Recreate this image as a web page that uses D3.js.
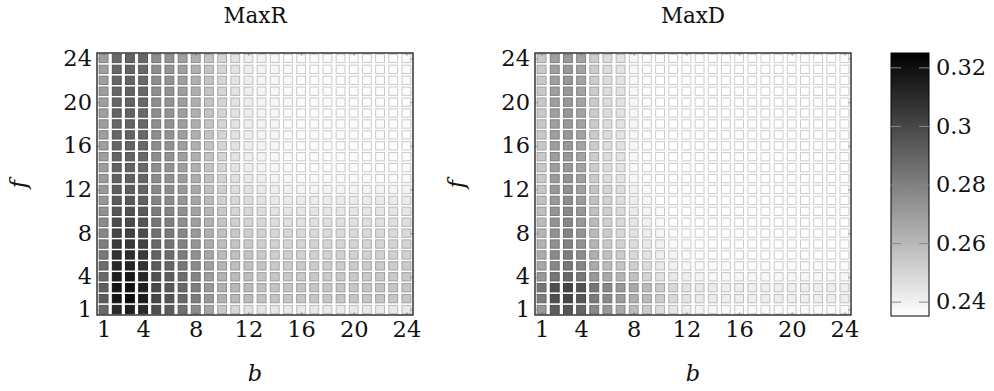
<!DOCTYPE html>
<html>
<head>
<meta charset="utf-8">
<script src="https://cdn.jsdelivr.net/npm/d3@7"></script>
<style>
  body { margin: 0; background: #fff; }
</style>
</head>
<body>
<svg width="994" height="391"></svg>
<script>
// tick values / labels
const bTicks = [1, 4, 8, 12, 16, 20, 24];
const fTicks = [1, 4, 8, 12, 16, 20, 24];
const barTicks = [0.24, 0.26, 0.28, 0.3, 0.32];
const colorDomain = [0.2351, 0.3249];
const titles = ['MaxR', 'MaxD'];

// rows: f = 1..24, each row b = 1..24
const maxR = [
  [0.288,0.310,0.314,0.310,0.297,0.292,0.285,0.276,0.266,0.254,0.249,0.246,0.245,0.244,0.243,0.243,0.243,0.243,0.243,0.243,0.243,0.243,0.243,0.243],
  [0.293,0.318,0.321,0.315,0.300,0.295,0.288,0.281,0.271,0.263,0.260,0.259,0.257,0.256,0.255,0.255,0.255,0.255,0.255,0.255,0.255,0.255,0.255,0.255],
  [0.291,0.317,0.319,0.313,0.299,0.294,0.288,0.280,0.271,0.263,0.260,0.259,0.257,0.256,0.255,0.255,0.255,0.255,0.255,0.255,0.255,0.255,0.255,0.255],
  [0.288,0.314,0.316,0.310,0.296,0.292,0.286,0.278,0.269,0.262,0.259,0.258,0.256,0.255,0.254,0.254,0.254,0.254,0.254,0.254,0.254,0.254,0.254,0.254],
  [0.286,0.311,0.312,0.307,0.293,0.289,0.283,0.276,0.268,0.261,0.258,0.257,0.256,0.254,0.253,0.253,0.253,0.253,0.253,0.253,0.253,0.253,0.253,0.253],
  [0.282,0.307,0.309,0.304,0.290,0.287,0.281,0.274,0.266,0.259,0.257,0.256,0.254,0.252,0.252,0.251,0.251,0.251,0.251,0.251,0.251,0.251,0.251,0.251],
  [0.280,0.305,0.305,0.301,0.288,0.284,0.279,0.272,0.264,0.258,0.256,0.254,0.252,0.251,0.250,0.250,0.250,0.250,0.250,0.250,0.250,0.250,0.250,0.250],
  [0.277,0.301,0.302,0.298,0.285,0.282,0.277,0.271,0.263,0.257,0.254,0.252,0.251,0.249,0.249,0.248,0.248,0.248,0.248,0.248,0.248,0.248,0.248,0.248],
  [0.276,0.298,0.299,0.295,0.283,0.280,0.275,0.269,0.262,0.256,0.252,0.250,0.249,0.247,0.246,0.246,0.246,0.246,0.246,0.246,0.246,0.246,0.246,0.246],
  [0.274,0.295,0.296,0.293,0.281,0.278,0.274,0.267,0.260,0.254,0.250,0.249,0.247,0.245,0.244,0.244,0.244,0.244,0.244,0.244,0.244,0.244,0.244,0.244],
  [0.272,0.293,0.294,0.291,0.278,0.276,0.272,0.266,0.259,0.252,0.249,0.247,0.245,0.243,0.242,0.242,0.242,0.242,0.242,0.242,0.242,0.242,0.242,0.242],
  [0.271,0.292,0.292,0.290,0.277,0.275,0.271,0.265,0.257,0.252,0.247,0.245,0.243,0.241,0.240,0.239,0.239,0.239,0.239,0.239,0.239,0.239,0.239,0.239],
  [0.270,0.291,0.291,0.289,0.276,0.274,0.270,0.264,0.257,0.251,0.246,0.243,0.241,0.239,0.238,0.237,0.237,0.237,0.237,0.237,0.237,0.237,0.237,0.237],
  [0.269,0.290,0.290,0.288,0.275,0.273,0.269,0.263,0.256,0.250,0.245,0.241,0.239,0.238,0.237,0.236,0.236,0.236,0.236,0.236,0.236,0.236,0.236,0.236],
  [0.269,0.290,0.290,0.288,0.275,0.273,0.269,0.263,0.256,0.250,0.245,0.241,0.239,0.238,0.237,0.236,0.236,0.236,0.236,0.236,0.236,0.236,0.236,0.236],
  [0.269,0.289,0.290,0.288,0.275,0.273,0.269,0.263,0.256,0.250,0.245,0.241,0.239,0.238,0.237,0.236,0.236,0.236,0.236,0.236,0.236,0.236,0.236,0.236],
  [0.269,0.289,0.290,0.288,0.275,0.273,0.269,0.263,0.256,0.250,0.245,0.241,0.239,0.238,0.237,0.236,0.236,0.236,0.236,0.236,0.236,0.236,0.236,0.236],
  [0.269,0.289,0.290,0.288,0.275,0.273,0.269,0.263,0.256,0.250,0.245,0.241,0.239,0.238,0.237,0.236,0.236,0.236,0.236,0.236,0.236,0.236,0.236,0.236],
  [0.269,0.289,0.290,0.288,0.275,0.273,0.269,0.263,0.256,0.250,0.245,0.241,0.239,0.238,0.237,0.236,0.236,0.236,0.236,0.236,0.236,0.236,0.236,0.236],
  [0.269,0.289,0.290,0.288,0.275,0.273,0.269,0.263,0.256,0.250,0.245,0.241,0.239,0.238,0.237,0.236,0.236,0.236,0.236,0.236,0.236,0.236,0.236,0.236],
  [0.269,0.289,0.290,0.288,0.275,0.273,0.269,0.263,0.256,0.250,0.245,0.241,0.239,0.238,0.237,0.236,0.236,0.236,0.236,0.236,0.236,0.236,0.236,0.236],
  [0.269,0.289,0.290,0.288,0.275,0.273,0.269,0.263,0.256,0.250,0.245,0.241,0.239,0.238,0.237,0.236,0.236,0.236,0.236,0.236,0.236,0.236,0.236,0.236],
  [0.269,0.289,0.290,0.288,0.275,0.273,0.269,0.263,0.256,0.250,0.245,0.241,0.239,0.238,0.237,0.236,0.236,0.236,0.236,0.236,0.236,0.236,0.236,0.236],
  [0.269,0.288,0.290,0.288,0.275,0.273,0.269,0.263,0.256,0.250,0.245,0.241,0.239,0.238,0.237,0.236,0.236,0.236,0.236,0.236,0.236,0.236,0.236,0.236]
];

const maxD = [
  [0.271,0.292,0.295,0.289,0.277,0.271,0.265,0.259,0.253,0.247,0.244,0.241,0.239,0.238,0.237,0.237,0.237,0.237,0.237,0.237,0.237,0.237,0.237,0.237],
  [0.281,0.297,0.300,0.294,0.282,0.276,0.270,0.264,0.259,0.253,0.248,0.245,0.243,0.242,0.241,0.241,0.241,0.241,0.241,0.241,0.241,0.241,0.241,0.241],
  [0.283,0.297,0.301,0.295,0.283,0.277,0.271,0.265,0.259,0.253,0.249,0.245,0.243,0.242,0.241,0.241,0.241,0.241,0.241,0.241,0.241,0.241,0.241,0.241],
  [0.271,0.283,0.288,0.282,0.271,0.265,0.261,0.257,0.250,0.245,0.243,0.241,0.239,0.238,0.238,0.238,0.238,0.238,0.238,0.238,0.238,0.238,0.238,0.238],
  [0.266,0.277,0.282,0.277,0.265,0.259,0.255,0.252,0.247,0.243,0.240,0.238,0.237,0.237,0.236,0.236,0.236,0.236,0.236,0.236,0.236,0.236,0.236,0.236],
  [0.264,0.276,0.280,0.275,0.263,0.257,0.253,0.249,0.245,0.241,0.239,0.237,0.236,0.236,0.235,0.235,0.235,0.235,0.235,0.235,0.235,0.235,0.235,0.235],
  [0.262,0.274,0.278,0.273,0.261,0.254,0.251,0.247,0.242,0.240,0.237,0.236,0.235,0.235,0.235,0.235,0.235,0.235,0.235,0.235,0.235,0.235,0.235,0.235],
  [0.261,0.273,0.278,0.272,0.259,0.253,0.249,0.245,0.241,0.238,0.237,0.235,0.235,0.235,0.235,0.235,0.235,0.235,0.235,0.235,0.235,0.235,0.235,0.235],
  [0.259,0.273,0.277,0.271,0.259,0.252,0.249,0.244,0.240,0.237,0.236,0.235,0.235,0.235,0.235,0.235,0.235,0.235,0.235,0.235,0.235,0.235,0.235,0.235],
  [0.258,0.272,0.276,0.271,0.257,0.252,0.248,0.242,0.239,0.237,0.235,0.235,0.235,0.235,0.235,0.235,0.235,0.235,0.235,0.235,0.235,0.235,0.235,0.235],
  [0.257,0.271,0.275,0.270,0.257,0.251,0.247,0.241,0.238,0.235,0.235,0.235,0.235,0.235,0.235,0.235,0.235,0.235,0.235,0.235,0.235,0.235,0.235,0.235],
  [0.255,0.271,0.274,0.269,0.256,0.250,0.247,0.240,0.237,0.235,0.235,0.235,0.235,0.235,0.235,0.235,0.235,0.235,0.235,0.235,0.235,0.235,0.235,0.235],
  [0.254,0.270,0.273,0.269,0.253,0.247,0.245,0.238,0.236,0.235,0.235,0.235,0.235,0.235,0.235,0.235,0.235,0.235,0.235,0.235,0.235,0.235,0.235,0.235],
  [0.254,0.269,0.271,0.267,0.253,0.247,0.245,0.238,0.236,0.235,0.235,0.235,0.235,0.235,0.235,0.235,0.235,0.235,0.235,0.235,0.235,0.235,0.235,0.235],
  [0.254,0.269,0.271,0.267,0.253,0.247,0.245,0.238,0.236,0.235,0.235,0.235,0.235,0.235,0.235,0.235,0.235,0.235,0.235,0.235,0.235,0.235,0.235,0.235],
  [0.254,0.269,0.271,0.267,0.253,0.247,0.245,0.238,0.236,0.235,0.235,0.235,0.235,0.235,0.235,0.235,0.235,0.235,0.235,0.235,0.235,0.235,0.235,0.235],
  [0.254,0.269,0.271,0.267,0.253,0.247,0.245,0.238,0.236,0.235,0.235,0.235,0.235,0.235,0.235,0.235,0.235,0.235,0.235,0.235,0.235,0.235,0.235,0.235],
  [0.254,0.269,0.271,0.267,0.253,0.247,0.245,0.238,0.236,0.235,0.235,0.235,0.235,0.235,0.235,0.235,0.235,0.235,0.235,0.235,0.235,0.235,0.235,0.235],
  [0.254,0.269,0.271,0.267,0.253,0.247,0.245,0.238,0.236,0.235,0.235,0.235,0.235,0.235,0.235,0.235,0.235,0.235,0.235,0.235,0.235,0.235,0.235,0.235],
  [0.254,0.269,0.271,0.267,0.253,0.247,0.245,0.238,0.236,0.235,0.235,0.235,0.235,0.235,0.235,0.235,0.235,0.235,0.235,0.235,0.235,0.235,0.235,0.235],
  [0.254,0.269,0.271,0.267,0.253,0.247,0.245,0.238,0.236,0.235,0.235,0.235,0.235,0.235,0.235,0.235,0.235,0.235,0.235,0.235,0.235,0.235,0.235,0.235],
  [0.254,0.269,0.271,0.267,0.253,0.247,0.245,0.238,0.236,0.235,0.235,0.235,0.235,0.235,0.235,0.235,0.235,0.235,0.235,0.235,0.235,0.235,0.235,0.235],
  [0.254,0.269,0.271,0.267,0.253,0.247,0.245,0.238,0.236,0.235,0.235,0.235,0.235,0.235,0.235,0.235,0.235,0.235,0.235,0.235,0.235,0.235,0.235,0.235],
  [0.254,0.269,0.271,0.267,0.253,0.247,0.245,0.238,0.236,0.235,0.235,0.235,0.235,0.235,0.235,0.235,0.235,0.235,0.235,0.235,0.235,0.235,0.235,0.235]
];

const font = '"DejaVu Serif", "Liberation Serif", serif';
const fontSize = 22.5;
const plotTop = 53;
const plotBottom = 315;

const svg = d3.select('svg');

const colorScale = d3.scaleLinear()
                     .domain(colorDomain)
                     .range(['#ffffff', '#000000'])
                     .clamp(true);

const panels = [
  { title: titles[0], data: maxR, left: 97, right: 413 },
  { title: titles[1], data: maxD, left: 535, right: 851 }
];

const yScale = d3.scaleLinear()
                 .domain([0.5, 24.5])
                 .range([plotBottom, plotTop]);

const styleLabels = (a) => a.selectAll('text')
  .attr('fill', '#111')
  .style('font-family', font)
  .style('font-size', fontSize + 'px');

panels.forEach((p) => {
  const xScale = d3.scaleLinear()
                   .domain([0.5, 24.5])
                   .range([p.left, p.right]);

  const cellW = xScale(2) - xScale(1);
  const cellH = yScale(1) - yScale(2);
  const w = cellW - 4.3;
  const h = cellH - 2.6;

  const cells = p.data.flatMap((row, i) =>
    row.map((v, j) => ({ b: j + 1, f: i + 1, v: v })));

  const g = svg.append('g');

  g.selectAll('rect.cell')
    .data(cells)
    .enter()
    .append('rect')
      .attr('class', 'cell')
      .attr('x', (d) => xScale(d.b) - w / 2)
      .attr('y', (d) => yScale(d.f) - h / 2)
      .attr('width', w)
      .attr('height', h)
      .attr('fill', (d) => colorScale(d.v))
      .attr('stroke', (d) => d3.interpolateRgb(colorScale(d.v), '#000')(0.2))
      .attr('stroke-width', 1);

  // inner ticks on all four sides
  g.append('g')
    .attr('transform', `translate(0, ${plotBottom})`)
    .call(d3.axisBottom(xScale).tickValues(bTicks).tickSizeInner(-3).tickSizeOuter(0).tickPadding(6))
    .call((a) => a.select('.domain').remove())
    .call((a) => a.selectAll('line').attr('stroke', '#666').attr('stroke-width', 0.5))
    .call(styleLabels);

  g.append('g')
    .attr('transform', `translate(0, ${plotTop})`)
    .call(d3.axisTop(xScale).tickValues(bTicks).tickSizeInner(-3).tickSizeOuter(0).tickFormat(''))
    .call((a) => a.select('.domain').remove())
    .call((a) => a.selectAll('line').attr('stroke', '#666').attr('stroke-width', 0.5));

  g.append('g')
    .attr('transform', `translate(${p.left}, 0)`)
    .call(d3.axisLeft(yScale).tickValues(fTicks).tickSizeInner(-3).tickSizeOuter(0).tickPadding(5))
    .call((a) => a.select('.domain').remove())
    .call((a) => a.selectAll('line').attr('stroke', '#666').attr('stroke-width', 0.5))
    .call(styleLabels);

  g.append('g')
    .attr('transform', `translate(${p.right}, 0)`)
    .call(d3.axisRight(yScale).tickValues(fTicks).tickSizeInner(-3).tickSizeOuter(0).tickFormat(''))
    .call((a) => a.select('.domain').remove())
    .call((a) => a.selectAll('line').attr('stroke', '#666').attr('stroke-width', 0.5));

  g.append('rect')
    .attr('x', p.left)
    .attr('y', plotTop)
    .attr('width', p.right - p.left)
    .attr('height', plotBottom - plotTop)
    .attr('fill', 'none')
    .attr('stroke', '#000')
    .attr('stroke-width', 1.2);

  const mid = (p.left + p.right) / 2;

  svg.append('text')
    .text(p.title)
    .attr('x', mid)
    .attr('y', 23)
    .attr('fill', '#111')
    .style('text-anchor', 'middle')
    .style('font-family', font)
    .style('font-size', (fontSize - 1) + 'px');

  svg.append('text')
    .text('b')
    .attr('x', mid)
    .attr('y', 381)
    .attr('fill', '#111')
    .style('text-anchor', 'middle')
    .style('font-style', 'italic')
    .style('font-family', font)
    .style('font-size', fontSize + 'px');

  svg.append('text')
    .text('f')
    .attr('transform', `translate(${p.left - 71}, ${(plotTop + plotBottom) / 2}) rotate(-90)`)
    .attr('fill', '#111')
    .style('text-anchor', 'middle')
    .style('font-style', 'italic')
    .style('font-family', font)
    .style('font-size', fontSize + 'px');
});

// colour bar
const barLeft = 891;
const barRight = 929;
const barTop = 53;
const barBottom = 316;

const barScale = d3.scaleLinear()
                   .domain(colorDomain)
                   .range([barBottom, barTop]);

const grad = svg.append('defs')
  .append('linearGradient')
    .attr('id', 'bar')
    .attr('x1', 0).attr('y1', 1)
    .attr('x2', 0).attr('y2', 0);

grad.append('stop').attr('offset', 0).attr('stop-color', colorScale(colorDomain[0]));
grad.append('stop').attr('offset', 1).attr('stop-color', colorScale(colorDomain[1]));

svg.append('rect')
  .attr('x', barLeft)
  .attr('y', barTop)
  .attr('width', barRight - barLeft)
  .attr('height', barBottom - barTop)
  .attr('fill', 'url(#bar)')
  .attr('stroke', '#000')
  .attr('stroke-width', 1);

svg.append('g')
  .attr('transform', `translate(${barLeft}, 0)`)
  .call(d3.axisLeft(barScale).tickValues(barTicks).tickSizeInner(-10).tickSizeOuter(0).tickFormat(''))
  .call((a) => a.select('.domain').remove())
  .call((a) => a.selectAll('line').attr('stroke', '#888').attr('stroke-width', 1));

svg.append('g')
  .attr('transform', `translate(${barRight}, 0)`)
  .call(d3.axisRight(barScale).tickValues(barTicks).tickSizeInner(-10).tickSizeOuter(0).tickPadding(7)
          .tickFormat((d) => String(d)))
  .call((a) => a.select('.domain').remove())
  .call((a) => a.selectAll('line').attr('stroke', '#888').attr('stroke-width', 1))
  .call(styleLabels);
</script>
</body>
</html>
